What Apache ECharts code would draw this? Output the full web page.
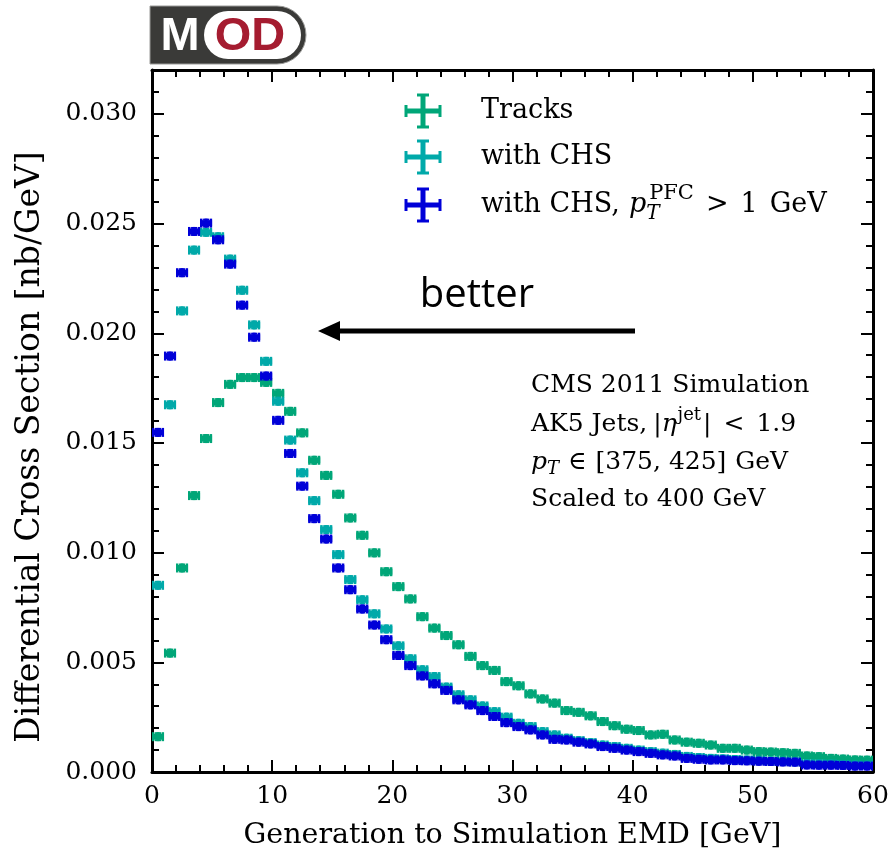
<!DOCTYPE html>
<html>
<head>
<meta charset="utf-8">
<script src="https://cdn.jsdelivr.net/npm/echarts@6/dist/echarts.min.js"></script>
<style>
  html, body { margin: 0; padding: 0; background: #fff; }
  #chart { width: 891px; height: 857px; }
</style>
</head>
<body>
<div id="chart"></div>
<script>
// Bin centres of the 1 GeV wide EMD histogram bins
const binCenters = [
  0.5, 1.5, 2.5, 3.5, 4.5, 5.5, 6.5, 7.5, 8.5, 9.5,
  10.5, 11.5, 12.5, 13.5, 14.5, 15.5, 16.5, 17.5, 18.5, 19.5,
  20.5, 21.5, 22.5, 23.5, 24.5, 25.5, 26.5, 27.5, 28.5, 29.5,
  30.5, 31.5, 32.5, 33.5, 34.5, 35.5, 36.5, 37.5, 38.5, 39.5,
  40.5, 41.5, 42.5, 43.5, 44.5, 45.5, 46.5, 47.5, 48.5, 49.5,
  50.5, 51.5, 52.5, 53.5, 54.5, 55.5, 56.5, 57.5, 58.5, 59.5
];

// Differential cross section [nb/GeV], tracks only
const tracks = [
  0.00161, 0.00542, 0.00930, 0.01260, 0.01520, 0.01684, 0.01767, 0.01798, 0.01798, 0.01776,
  0.01726, 0.01644, 0.01546, 0.01421, 0.01352, 0.01266, 0.01158, 0.01079, 0.00999, 0.00913,
  0.00845, 0.00789, 0.00708, 0.00656, 0.00622, 0.00580, 0.00527, 0.00485, 0.00463, 0.00412,
  0.00393, 0.00356, 0.00333, 0.00314, 0.00280, 0.00272, 0.00256, 0.00230, 0.00211, 0.00195,
  0.00189, 0.00169, 0.00172, 0.00146, 0.00136, 0.00131, 0.00123, 0.00108, 0.00108, 0.00100,
  0.00093, 0.00091, 0.00088, 0.00085, 0.00073, 0.00070, 0.00062, 0.00059, 0.00055, 0.00054
];

// Tracks with charged hadron subtraction
const withCHS = [
  0.00851, 0.01674, 0.02102, 0.02379, 0.02460, 0.02440, 0.02338, 0.02196, 0.02038, 0.01872,
  0.01690, 0.01513, 0.01364, 0.01237, 0.01105, 0.00991, 0.00877, 0.00785, 0.00721, 0.00652,
  0.00575, 0.00516, 0.00466, 0.00435, 0.00387, 0.00352, 0.00329, 0.00301, 0.00275, 0.00250,
  0.00222, 0.00207, 0.00184, 0.00169, 0.00154, 0.00143, 0.00134, 0.00123, 0.00116, 0.00108,
  0.00100, 0.00093, 0.00086, 0.00080, 0.00071, 0.00066, 0.00062, 0.00060, 0.00057, 0.00055,
  0.00053, 0.00050, 0.00049, 0.00047, 0.00038, 0.00037, 0.00036, 0.00034, 0.00032, 0.00031
];

// With CHS and a 1 GeV particle-flow-candidate pT cut
const withCHSCut = [
  0.01548, 0.01896, 0.02276, 0.02464, 0.02502, 0.02426, 0.02315, 0.02128, 0.01982, 0.01805,
  0.01603, 0.01452, 0.01303, 0.01155, 0.01062, 0.00930, 0.00831, 0.00743, 0.00670, 0.00603,
  0.00531, 0.00485, 0.00438, 0.00402, 0.00372, 0.00329, 0.00306, 0.00280, 0.00253, 0.00225,
  0.00207, 0.00192, 0.00169, 0.00149, 0.00146, 0.00136, 0.00128, 0.00116, 0.00108, 0.00100,
  0.00093, 0.00085, 0.00078, 0.00073, 0.00062, 0.00058, 0.00055, 0.00055, 0.00052, 0.00051,
  0.00049, 0.00048, 0.00046, 0.00045, 0.00032, 0.00031, 0.00031, 0.00030, 0.00027, 0.00027
];

const seriesNames = ['Tracks', 'with CHS', 'with CHS, pT > 1 GeV'];
const seriesColors = ['#00a678', '#00a9a9', '#0000d8'];
const xTickLabels = ['0', '10', '20', '30', '40', '50', '60'];
const xTitle = 'Generation to Simulation EMD [GeV]';
const yTitle = 'Differential Cross Section [nb/GeV]';

const SERIF = '"DejaVu Serif", "Liberation Serif", serif';

const chart = echarts.init(document.getElementById('chart'), null, { renderer: 'canvas' });

// Histogram point drawn as a horizontal bin bar with a capped vertical error bar
function errorBarRenderer(color) {
  return function (params, api) {
    const c = api.coord([api.value(0), api.value(1)]);
    const w = api.size([1, 0])[0];
    const hw = w / 2;
    const h = 4.5;
    const s = (lw) => ({ stroke: color, lineWidth: lw, fill: null });
    return {
      type: 'group',
      children: [
        { type: 'line', shape: { x1: c[0] - hw, y1: c[1], x2: c[0] + hw, y2: c[1] }, style: s(6) },
        { type: 'line', shape: { x1: c[0] - hw + 1.2, y1: c[1] - h, x2: c[0] - hw + 1.2, y2: c[1] + h }, style: s(2.5) },
        { type: 'line', shape: { x1: c[0] + hw - 1.2, y1: c[1] - h, x2: c[0] + hw - 1.2, y2: c[1] + h }, style: s(2.5) },
        { type: 'line', shape: { x1: c[0], y1: c[1] - h, x2: c[0], y2: c[1] + h }, style: s(3) },
        { type: 'line', shape: { x1: c[0] - 3, y1: c[1] - h + 1, x2: c[0] + 3, y2: c[1] - h + 1 }, style: s(2) },
        { type: 'line', shape: { x1: c[0] - 3, y1: c[1] + h - 1, x2: c[0] + 3, y2: c[1] + h - 1 }, style: s(2) }
      ]
    };
  };
}

function makeSeries(name, values, color) {
  return {
    name: name,
    type: 'custom',
    xAxisIndex: 0,
    yAxisIndex: 0,
    clip: true,
    renderItem: errorBarRenderer(color),
    encode: { x: 0, y: 1 },
    data: binCenters.map((x, i) => [x, values[i]])
  };
}

const frame = { show: true, onZero: false, lineStyle: { color: '#000', width: 3 } };
const noLine = { show: false, onZero: false };
const majorTick = { show: true, inside: true, length: 12, lineStyle: { color: '#000', width: 2 } };
const minorTick = { show: true, inside: true, length: 7, lineStyle: { color: '#000', width: 2 } };

function xAxisDef(position, interval, tick, withLabels, withLine) {
  return {
    type: 'value', position: position, min: 0, max: 60, interval: interval,
    axisLine: withLine ? frame : noLine,
    axisTick: tick,
    splitLine: { show: false },
    axisLabel: withLabels ? {
      show: true, color: '#000', fontFamily: SERIF, fontSize: 25, margin: 12,
      formatter: (v) => xTickLabels[Math.round(v / 10)] || ''
    } : { show: false }
  };
}

function yAxisDef(position, interval, tick, withLabels, withLine) {
  return {
    type: 'value', position: position, min: 0, max: 0.032, interval: interval,
    axisLine: withLine ? frame : noLine,
    axisTick: tick,
    splitLine: { show: false },
    axisLabel: withLabels ? {
      show: true, color: '#000', fontFamily: SERIF, fontSize: 25, margin: 15,
      formatter: (v) => {
        const k = v / 0.005;
        return Math.abs(k - Math.round(k)) < 1e-6 ? v.toFixed(3) : '';
      }
    } : { show: false }
  };
}

// Text measuring for hand-placed math-style labels
const measureCtx = document.createElement('canvas').getContext('2d');
function fontOf(size, italic) { return (italic ? 'italic ' : '') + size + 'px ' + SERIF; }
function widthOf(str, size, italic) { measureCtx.font = fontOf(size, italic); return measureCtx.measureText(str).width; }
function textEl(x, y, t) {
  return { type: 'text', x: x, y: y, style: { text: t.text, font: fontOf(t.size, t.italic), fill: '#000', textAlign: 'left', textVerticalAlign: 'middle' } };
}

// Lays out a run of text fragments left to right; "gap" adds math-style spacing
// before a fragment and "stack" puts a subscript and a superscript at one position.
function textRun(x, y, parts) {
  const els = [];
  let cx = x;
  parts.forEach((p) => {
    cx += p.gap || 0;
    if (p.stack) {
      const sub = p.stack[0], sup = p.stack[1];
      els.push(textEl(cx, y + sub.dy, sub));
      els.push(textEl(cx + (sup.dx || 0), y + sup.dy, sup));
      cx += Math.max(widthOf(sub.text, sub.size, sub.italic), widthOf(sup.text, sup.size, sup.italic) + (sup.dx || 0));
    } else {
      els.push(textEl(cx, y + (p.dy || 0), p));
      cx += widthOf(p.text, p.size, p.italic);
    }
  });
  return els;
}

// Legend marker: a cross with caps on every arm
function legendMarker(cx, cy, color) {
  const s = (lw) => ({ stroke: color, lineWidth: lw, fill: null });
  return [
    { type: 'line', shape: { x1: cx - 18, y1: cy, x2: cx + 18, y2: cy }, style: s(5) },
    { type: 'line', shape: { x1: cx, y1: cy - 17, x2: cx, y2: cy + 17 }, style: s(5) },
    { type: 'line', shape: { x1: cx - 17, y1: cy - 6, x2: cx - 17, y2: cy + 6 }, style: s(3) },
    { type: 'line', shape: { x1: cx + 17, y1: cy - 6, x2: cx + 17, y2: cy + 6 }, style: s(3) },
    { type: 'line', shape: { x1: cx - 6, y1: cy - 16, x2: cx + 6, y2: cy - 16 }, style: s(3) },
    { type: 'line', shape: { x1: cx - 6, y1: cy + 16, x2: cx + 6, y2: cy + 16 }, style: s(3) }
  ];
}

const legendX = 423, legendTextX = 481;
const legendY = [111, 157, 205];
const LS = 27;

const legendEls = []
  .concat(legendMarker(legendX, legendY[0], seriesColors[0]))
  .concat(legendMarker(legendX, legendY[1], seriesColors[1]))
  .concat(legendMarker(legendX, legendY[2], seriesColors[2]))
  .concat(textRun(legendTextX, legendY[0], [{ text: 'Tracks', size: LS }]))
  .concat(textRun(legendTextX, legendY[1], [{ text: 'with CHS', size: LS }]))
  .concat(textRun(legendTextX, legendY[2], [
    { text: 'with CHS,', size: LS },
    { text: 'p', size: LS, italic: true, gap: 9 },
    { stack: [{ text: 'T', size: 20, italic: true, dy: 9 }, { text: 'PFC', size: 21, dy: -11, dx: 3 }] },
    { text: '>', size: LS, gap: 12 },
    { text: '1', size: LS, gap: 12 },
    { text: 'GeV', size: LS, gap: 12 }
  ]));

const IS = 25;
const infoX = 531;
const infoEls = []
  .concat(textRun(infoX, 385, [{ text: 'CMS 2011 Simulation', size: IS }]))
  .concat(textRun(infoX, 424, [
    { text: 'AK5 Jets,', size: IS },
    { text: '|', size: IS, gap: 6 },
    { text: 'η', size: IS, italic: true },
    { text: 'jet', size: 18, dy: -9, gap: 1 },
    { text: '|', size: IS, gap: 2 },
    { text: '<', size: IS, gap: 12 },
    { text: '1.9', size: IS, gap: 12 }
  ]))
  .concat(textRun(infoX, 462, [
    { text: 'p', size: IS, italic: true },
    { text: 'T', size: 18, italic: true, dy: 7 },
    { text: '∈', size: IS, gap: 9 },
    { text: '[375, 425]', size: IS, gap: 9 },
    { text: 'GeV', size: IS, gap: 9 }
  ]))
  .concat(textRun(infoX, 499, [{ text: 'Scaled to 400 GeV', size: IS }]));

// Vertical axis title, reading bottom to top
const yTitleEls = [
  { type: 'text', x: 30, y: 447, rotation: Math.PI / 2,
    style: { text: yTitle, font: '33px ' + SERIF, fill: '#000', textAlign: 'center', textVerticalAlign: 'middle' } }
];

const logoEls = [
  { type: 'rect', shape: { x: 150, y: 6, width: 156, height: 58, r: [0, 29, 29, 0] }, style: { fill: '#3a3a38', stroke: '#9a9a98', lineWidth: 1 } },
  { type: 'rect', shape: { x: 204, y: 11, width: 97, height: 48, r: 24 }, style: { fill: '#ffffff' } },
  { type: 'text', x: 180, y: 37, style: { text: 'M', font: 'bold 47px "Liberation Sans", Arial, sans-serif', fill: '#ffffff', textAlign: 'center', textVerticalAlign: 'middle' } },
  { type: 'text', x: 250, y: 37, style: { text: 'OD', font: 'bold 47px "Liberation Sans", Arial, sans-serif', fill: '#a51c30', textAlign: 'center', textVerticalAlign: 'middle' } }
];

const annotationEls = [
  { type: 'text', x: 477, y: 296, style: { text: 'better', font: '40px "Open Sans", "Lato", sans-serif', fill: '#000', textAlign: 'center', textVerticalAlign: 'middle' } },
  { type: 'line', shape: { x1: 635, y1: 331, x2: 332, y2: 331 }, style: { stroke: '#000', lineWidth: 5 } },
  { type: 'polygon', shape: { points: [[318, 331], [340, 321], [340, 341]] }, style: { fill: '#000' } }
];

chart.setOption({
  animation: false,
  backgroundColor: '#ffffff',
  grid: { left: 152, right: 18, top: 70, bottom: 85, containLabel: false, outerBoundsMode: 'none' },
  xAxis: [
    Object.assign(xAxisDef('bottom', 10, majorTick, true, true), {
      name: xTitle, nameLocation: 'middle', nameGap: 49,
      nameTextStyle: { fontFamily: SERIF, fontSize: 28.5, color: '#000' }
    }),
    xAxisDef('bottom', 2, minorTick, false, false),
    xAxisDef('top', 10, majorTick, false, true),
    xAxisDef('top', 2, minorTick, false, false)
  ],
  yAxis: [
    yAxisDef('left', 0.005, majorTick, true, true),
    yAxisDef('left', 0.001, minorTick, false, false),
    yAxisDef('right', 0.005, majorTick, false, true),
    yAxisDef('right', 0.001, minorTick, false, false)
  ],
  series: [
    makeSeries(seriesNames[0], tracks, seriesColors[0]),
    makeSeries(seriesNames[1], withCHS, seriesColors[1]),
    makeSeries(seriesNames[2], withCHSCut, seriesColors[2])
  ],
  graphic: { elements: [].concat(logoEls, legendEls, infoEls, annotationEls, yTitleEls) }
});
</script>
</body>
</html>
